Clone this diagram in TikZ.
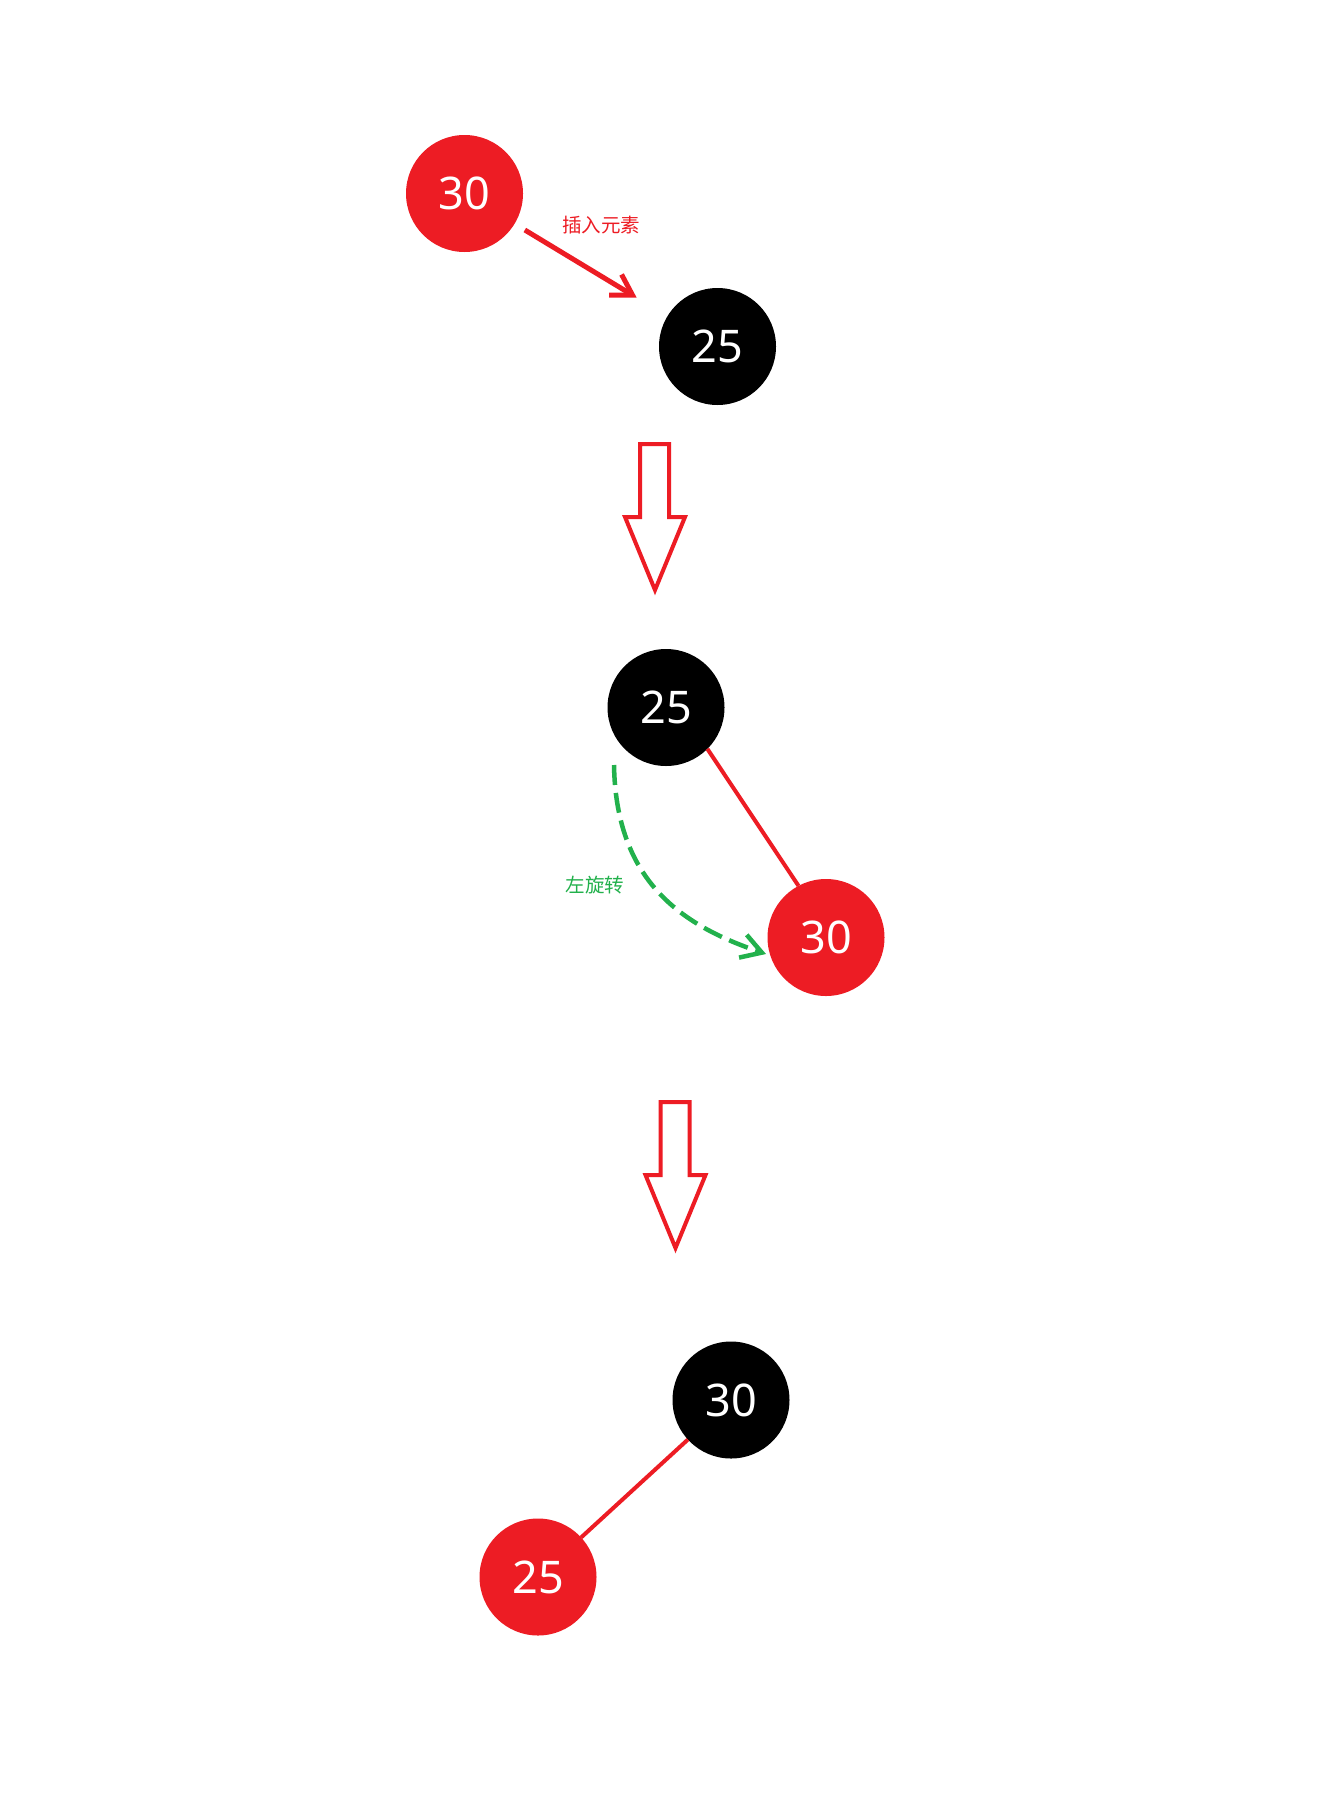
\documentclass[tikz,border=0pt]{standalone}
\usepackage{fontspec}
\setmainfont{Noto Sans}
\newfontfamily\cjk{Noto Sans CJK SC}
\usetikzlibrary{arrows.meta,calc}
\definecolor{pred}{HTML}{ED1C24}
\definecolor{pgreen}{HTML}{22B14C}
\begin{document}
\begin{tikzpicture}[x=1pt,y=-1pt,
  rbnode/.style={circle,minimum size=117pt,inner sep=0pt,outer sep=0pt,text=white,font=\fontsize{45}{48}\selectfont},
  rednode/.style={rbnode,fill=pred},
  blacknode/.style={rbnode,fill=black},
  edge/.style={draw=pred,line width=4pt},
  lbl/.style={font=\cjk\fontsize{19.5}{22}\selectfont,inner sep=0pt},
  hollow/.style={draw=pred,line width=4pt,fill=white,line join=miter},
  barb/.style={-{Straight Barb[length=20pt,width=24pt]}}
]
\useasboundingbox[fill=white] (0,0) rectangle (1333,1807);

% stage 1
\node[rednode] (a30) at (464.5,193.5) {30};
\node[blacknode] (a25) at (717.5,346.5) {25};
\draw[pred,line width=5pt,barb,shorten <=12pt,shorten >=36pt] (a30) -- (a25);
\node[lbl,text=pred] (l1) at (601,225) {插入元素};

% hollow arrow 1
\draw[hollow] (640,444) -- (669,444) -- (669,517) -- (685,517) -- (655,590) -- (625,517) -- (640,517) -- cycle;

% stage 2
\node[blacknode] (b25) at (666,707.5) {25};
\node[rednode] (b30) at (826,937.5) {30};
\draw[edge] (b25.-45) -- (b30.118);
\coordinate (gs) at ($(b25)+(-52,57.5)$);
\coordinate (ge) at ($(b30)+(-60,16.5)$);
\draw[pgreen,line width=4.5pt,dash pattern=on 20pt off 8pt,barb] (gs) .. controls (616,880) and (680,925) .. (ge);
\node[lbl,text=pgreen] (l2) at (595,885) {左旋转};

% hollow arrow 2
\begin{scope}[shift={(20.5,658)}]
\draw[hollow] (640,444) -- (669,444) -- (669,517) -- (685,517) -- (655,590) -- (625,517) -- (640,517) -- cycle;
\end{scope}

% stage 3
\node[blacknode] (c30) at (731,1400) {30};
\node[rednode] (c25) at (538,1577) {25};
\draw[edge] (c30) -- (c25);
\end{tikzpicture}
\end{document}
